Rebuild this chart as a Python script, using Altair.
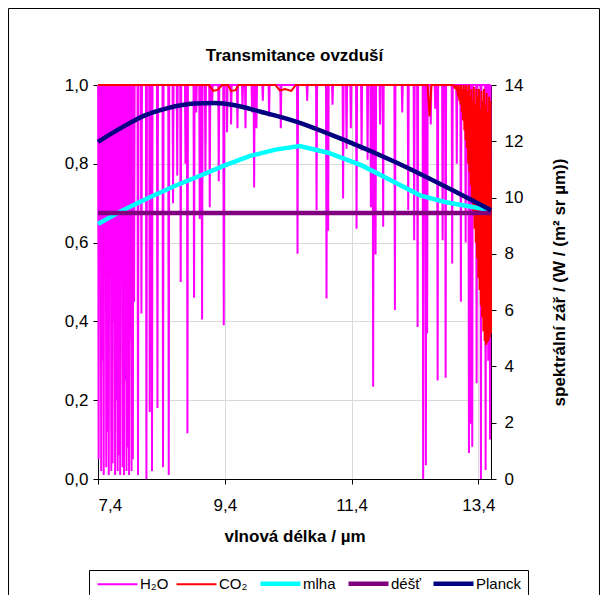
import altair as alt
import pandas as pd

FONT = "Liberation Sans"

series_names = ["H₂O", "CO₂", "mlha", "déšť", "Planck"]
series_colors = ["#FF00FF", "#FF0000", "#00FFFF", "#800080", "#000080"]
series_widths = [2, 2, 4.5, 4.5, 4.5]

# H2O absorption lines: centre wavelength (µm) and minimum transmittance
h2o_wl = [7.41, 7.43, 7.45, 7.47, 7.49, 7.51, 7.53, 7.55, 7.57, 7.59,
          7.61, 7.63, 7.65, 7.67, 7.69, 7.71, 7.73, 7.75, 7.77, 7.79,
          7.81, 7.83, 7.85, 7.87, 7.89, 7.91, 7.93, 7.95, 7.97,
          8.031, 8.085, 8.164, 8.216, 8.252, 8.338, 8.426, 8.516, 8.584, 8.65,
          8.705, 8.78, 8.811, 8.915, 8.95, 9.005, 9.042, 9.095, 9.163, 9.2,
          9.305, 9.384, 9.436, 9.5, 9.6, 9.68, 9.727, 9.831, 9.863, 9.9,
          10.0, 10.1, 10.284, 10.548, 10.7, 10.848, 11.005, 11.031, 11.1, 11.267,
          11.321, 11.389, 11.479, 11.558, 11.653, 11.705, 11.741, 11.779, 11.85, 11.899,
          12.084, 12.2, 12.294, 12.388, 12.442, 12.53, 12.573, 12.593, 12.65, 12.72,
          12.758, 12.837, 12.884, 12.988, 13.06, 13.125, 13.2, 13.252, 13.275, 13.304,
          13.373, 13.441, 13.515, 13.556, 13.585]
h2o_min = [0.05, 0.90, 0.02, 0.30, 0.01, 0.75, 0.03, 0.12, 0.01, 0.55,
           0.02, 0.04, 0.40, 0.01, 0.20, 0.02, 0.06, 0.01, 0.65, 0.03,
           0.01, 0.25, 0.02, 0.08, 0.01, 0.35, 0.02, 0.05, 0.45,
           0.01, 0.42, 0.0, 0.17, 0.02, 0.18, 0.03, 0.01, 0.70, 0.77,
           0.50, 0.80, 0.116, 0.46, 0.93, 0.66, 0.405, 0.77, 0.69, 0.95,
           0.756, 0.39, 0.88, 0.90, 0.89, 0.94, 0.89, 0.93, 0.74, 0.89,
           0.96, 0.92, 0.89, 0.572, 0.96, 0.682, 0.458, 0.63, 0.95, 0.712,
           0.838, 0.89, 0.635, 0.834, 0.81, 0.69, 0.234, 0.57, 0.90, 0.64,
           0.429, 0.93, 0.682, 0.606, 0.386, 0.0, 0.035, 0.37, 0.90, 0.94,
           0.25, 0.606, 0.257, 0.547, 0.80, 0.45, 0.60, 0.066, 0.14, 0.082,
           0.243, 0.0, 0.023, 0.30, 0.10]
SPIKE_HALF = 0.008

# CO2 transmittance
co2_wl = [7.4, 9.15, 9.22, 9.29, 9.36, 9.45, 9.5, 9.57, 9.62, 10.2,
          10.27, 10.35, 10.45, 10.52, 12.6, 12.63, 12.66, 13.0,
          13.02, 13.03, 13.04, 13.05, 13.06, 13.07, 13.08, 13.09, 13.10, 13.11,
          13.12, 13.13, 13.14, 13.15, 13.16, 13.17, 13.18, 13.19, 13.20, 13.21,
          13.22, 13.23, 13.24, 13.25, 13.26, 13.27, 13.28, 13.29, 13.30, 13.31,
          13.32, 13.33, 13.34, 13.35, 13.36, 13.37, 13.38, 13.39, 13.40, 13.41,
          13.42, 13.43, 13.44, 13.45, 13.46, 13.47, 13.48, 13.49, 13.50, 13.51,
          13.52, 13.53, 13.54, 13.55, 13.56, 13.57, 13.58, 13.59, 13.60]
co2_t = [1.0, 1.0, 0.985, 0.988, 1.0, 1.0, 0.985, 0.987, 1.0, 1.0,
         0.986, 0.99, 0.985, 1.0, 1.0, 0.92, 1.0, 1.0,
         0.995, 1.0, 0.99, 1.0, 0.985, 1.0, 0.97, 1.0, 0.96, 0.995,
         0.95, 1.0, 0.93, 0.99, 0.91, 1.0, 0.885, 0.99, 0.86, 1.0,
         0.84, 0.985, 0.80, 1.0, 0.78, 0.97, 0.745, 0.99, 0.71, 0.96,
         0.68, 0.995, 0.635, 0.95, 0.60, 0.99, 0.56, 0.97, 0.51, 0.99,
         0.48, 0.94, 0.44, 0.985, 0.41, 0.96, 0.375, 0.99, 0.35, 0.95,
         0.34, 0.98, 0.345, 0.93, 0.35, 0.97, 0.36, 0.96, 0.37]

# fog (mlha) transmittance
mlha_wl = [7.4, 7.8, 8.2, 8.6, 9.0, 9.4, 9.8, 10.2, 10.58, 11.03, 11.56, 12.08, 12.48, 12.87, 13.6]
mlha_t = [0.647, 0.683, 0.714, 0.743, 0.769, 0.796, 0.82, 0.836, 0.845, 0.828, 0.796, 0.753, 0.72, 0.703, 0.682]

# rain (déšť) transmittance
dest_wl = [7.4, 13.6]
dest_t = [0.675, 0.675]

# Planck spectral radiance, W/(m² sr µm)
planck_wl = [7.4, 7.8, 8.14, 8.5, 8.93, 9.24, 9.56, 9.98, 10.5, 11.29, 12.08, 12.87, 13.6]
planck_rad = [11.98, 12.52, 12.92, 13.18, 13.34, 13.36, 13.28, 13.04, 12.72, 12.04, 11.27, 10.4, 9.55]

x_ticks = [7.4, 9.4, 11.4, 13.4]
y_left_ticks = [0.0, 0.2, 0.4, 0.6, 0.8, 1.0]
y_right_ticks = [0, 2, 4, 6, 8, 10, 12, 14]

# ---- tables
h2o_rows = []
for w, d in zip(h2o_wl, h2o_min):
    h2o_rows += [(w - SPIKE_HALF, 1.0), (w, d), (w + SPIKE_HALF, 1.0)]
h2o_df = pd.DataFrame(h2o_rows, columns=["wl", "t"])
h2o_df["series"] = series_names[0]
co2_df = pd.DataFrame({"wl": co2_wl, "t": co2_t, "series": series_names[1]})
mlha_df = pd.DataFrame({"wl": mlha_wl, "t": mlha_t, "series": series_names[2]})
dest_df = pd.DataFrame({"wl": dest_wl, "t": dest_t, "series": series_names[3]})
planck_df = pd.DataFrame({"wl": planck_wl, "rad": planck_rad, "series": series_names[4]})

comma = "replace(format(datum.value, '.1f'), '.', ',')"

x_enc = alt.X(
    "wl:Q",
    scale=alt.Scale(domain=[7.4, 13.6], nice=False, zero=False),
    axis=alt.Axis(values=x_ticks, labelExpr=comma, title="vlnová délka / µm",
                  grid=True, tickSize=5, labelPadding=13, titleY=57,
                  titleBaseline="middle"),
)
y_enc = alt.Y(
    "t:Q",
    scale=alt.Scale(domain=[0, 1], nice=False),
    axis=alt.Axis(values=y_left_ticks, labelExpr=comma, title=None, grid=True,
                  tickSize=5, labelPadding=5),
)
legend = alt.Legend(
    title=None, orient="none", legendX=-9, legendY=485, direction="horizontal",
    columns=5, symbolType="M-1,0H7", symbolSize=100, labelFontSize=15,
    labelFont=FONT, labelColor="black", labelOffset=30, columnPadding=3,
    padding=6, strokeColor="black", fillColor="white",
)
color_enc = alt.Color("series:N", scale=alt.Scale(domain=series_names, range=series_colors), legend=legend)
sw_enc = alt.StrokeWidth("series:N", scale=alt.Scale(type="ordinal", domain=series_names, range=series_widths), legend=legend)

frame = alt.Chart(pd.DataFrame({"k": [0]})).mark_rect(
    fill="transparent", stroke="black", strokeWidth=1
).encode(x=alt.value(-89.5), x2=alt.value(501.5), y=alt.value(-76.5), y2=alt.value(510.5))

def tline(df):
    return alt.Chart(df).mark_line(clip=False).encode(x=x_enc, y=y_enc, color=color_enc, strokeWidth=sw_enc)

h2o = tline(h2o_df)
co2 = tline(co2_df)
mlha = tline(mlha_df)
dest = tline(dest_df)

planck = alt.Chart(planck_df).mark_line(interpolate="monotone").encode(
    x=x_enc,
    y=alt.Y("rad:Q", scale=alt.Scale(domain=[0, 14], nice=False),
            axis=alt.Axis(orient="right", values=y_right_ticks, grid=False,
                          title="spektrální zář / (W / (m² sr µm))",
                          tickSize=5, labelPadding=8, titleAngle=270,
                          titleX=68, titleY=197, titleAlign="center",
                          titleBaseline="middle")),
    color=color_enc,
    strokeWidth=sw_enc,
)

left = alt.layer(frame, h2o, co2, mlha, dest)
chart = alt.layer(left, planck).resolve_scale(y="independent").properties(
    width=393, height=394,
    autosize=alt.AutoSizeParams(type="none"),
    padding={"left": 90, "top": 77, "right": 109, "bottom": 116},
    title=alt.TitleParams("Transmitance ovzduší", font=FONT, fontSize=17,
                          fontWeight="bold", anchor="middle", frame="group",
                          offset=14, dy=71, color="black"),
).configure_view(stroke=None).configure_axis(
    labelFont=FONT, labelFontSize=17, labelColor="black",
    titleFont=FONT, titleFontSize=17, titleFontWeight="bold", titleColor="black",
    domainColor="black", tickColor="black", gridColor="#D9D9D9",
)

chart.save("out.html", embed_options={"renderer": "svg", "actions": False})
